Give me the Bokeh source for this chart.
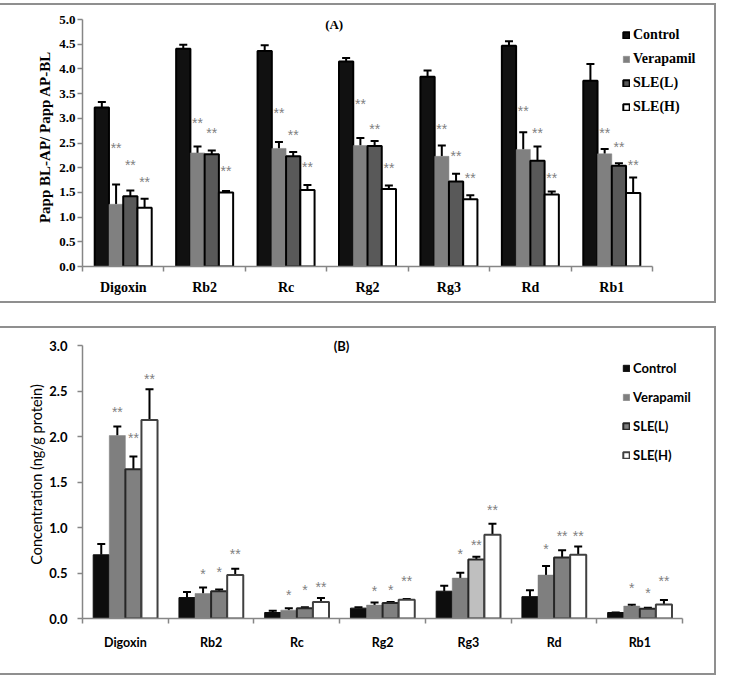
from bokeh.plotting import figure
from bokeh.models import (ColumnDataSource, Whisker, TeeHead, Legend, LegendItem,
                          FixedTicker, NumeralTickFormatter, Label, Range1d, Spacer)
from bokeh.layouts import column
from bokeh.embed import file_html
from bokeh.resources import INLINE
from bokeh.core.properties import value

categories = ["Digoxin", "Rb2", "Rc", "Rg2", "Rg3", "Rd", "Rb1"]
series = ["Control", "Verapamil", "SLE(L)", "SLE(H)"]

# ---------- Panel A: efflux ratio ----------
a_control = [3.22, 4.41, 4.36, 4.15, 3.84, 4.47, 3.76]
a_control_err = [0.11, 0.08, 0.12, 0.07, 0.13, 0.09, 0.34]
a_verapamil = [1.26, 2.30, 2.39, 2.45, 2.23, 2.37, 2.28]
a_verapamil_err = [0.40, 0.13, 0.13, 0.15, 0.22, 0.35, 0.10]
a_slel = [1.42, 2.27, 2.23, 2.44, 1.72, 2.14, 2.04]
a_slel_err = [0.12, 0.08, 0.09, 0.10, 0.16, 0.29, 0.05]
a_sleh = [1.19, 1.50, 1.55, 1.57, 1.36, 1.46, 1.49]
a_sleh_err = [0.18, 0.03, 0.10, 0.07, 0.08, 0.06, 0.31]
# significance marks (label heights)
a_mark_ver = ["**"] * 7
a_mark_ver_y = [2.39, 2.90, 3.11, 3.29, 2.79, 3.14, 2.70]
a_mark_slel = ["**"] * 7
a_mark_slel_y = [2.06, 2.70, 2.67, 2.79, 2.23, 2.70, 2.41]
a_mark_sleh = ["**"] * 7
a_mark_sleh_y = [1.72, 1.93, 2.01, 1.99, 1.80, 1.80, 2.06]
a_yticks = [0.0, 0.5, 1.0, 1.5, 2.0, 2.5, 3.0, 3.5, 4.0, 4.5, 5.0]

# ---------- Panel B: intracellular concentration ----------
b_control = [0.70, 0.23, 0.066, 0.114, 0.30, 0.24, 0.066]
b_control_err = [0.12, 0.06, 0.02, 0.01, 0.06, 0.07, 0.0]
b_verapamil = [2.01, 0.275, 0.092, 0.147, 0.444, 0.477, 0.136]
b_verapamil_err = [0.10, 0.066, 0.02, 0.03, 0.06, 0.10, 0.015]
b_slel = [1.64, 0.30, 0.114, 0.17, 0.648, 0.67, 0.107]
b_slel_err = [0.14, 0.02, 0.01, 0.01, 0.03, 0.08, 0.01]
b_sleh = [2.18, 0.477, 0.18, 0.205, 0.92, 0.70, 0.154]
b_sleh_err = [0.34, 0.07, 0.045, 0.01, 0.12, 0.09, 0.05]
b_mark_ver = ["**", "*", "*", "*", "*", "*", "*"]
b_mark_ver_y = [2.27, 0.49, 0.26, 0.30, 0.714, 0.76, 0.33]
b_mark_slel = ["**", "*", "*", "*", "**", "**", "*"]
b_mark_slel_y = [1.98, 0.51, 0.31, 0.31, 0.81, 0.905, 0.275]
b_mark_sleh = ["**"] * 7
b_mark_sleh_y = [2.63, 0.71, 0.35, 0.41, 1.19, 0.905, 0.41]
b_yticks = [0.0, 0.5, 1.0, 1.5, 2.0, 2.5, 3.0]

AXIS_GRAY = "#868686"
MARK_GRAY = "#7f7f7f"


def make_panel(width, height, axis_box, ymax, yticks, ytitle, vals, errs, marks,
               styles, group_w, font, tick_size, xlab_size, title_size, title_style,
               title_standoff, tick_standoff, xlab_standoff, mark_font, mark_size,
               legend_font, legend_size, legend_loc, legend_spacing, tag, tag_xy,
               tag_font, tag_size):
    # axis_box: pixel extent of the axes (left, right, top, bottom) inside the figure;
    # the frame is widened to the figure edges so legend / tag are not clipped.
    left, right, top, bottom = axis_box
    ncat = len(categories)
    pad = 2
    frame_w = width - left - pad
    frame_h = height - pad - bottom
    axis_w = right - left
    x_end = ncat * frame_w / axis_w
    y_end = ymax * frame_h / (height - bottom - top)
    p = figure(width=width, height=height, output_backend="svg", toolbar_location=None,
               x_range=Range1d(0, x_end), y_range=Range1d(0, y_end),
               min_border_left=left, min_border_right=pad,
               min_border_top=pad, min_border_bottom=bottom)
    p.outline_line_color = None
    p.xgrid.grid_line_color = None
    p.ygrid.grid_line_color = None
    p.background_fill_color = "white"
    p.border_fill_color = "white"
    p.styles = {"outline": "2px solid #8f8f8f"}

    n = len(series)
    bw = group_w / n
    offsets = [(-group_w / 2 + bw * (j + 0.5)) for j in range(n)]
    items = []
    for j, name in enumerate(series):
        xs = [i + 0.5 + offsets[j] for i in range(ncat)]
        st = styles[j]
        src = ColumnDataSource(dict(x=xs, top=vals[j], lower=vals[j],
                                    upper=[v + e for v, e in zip(vals[j], errs[j])],
                                    fill=st["fill"]))
        r = p.vbar(x="x", top="top", width=bw, source=src, fill_color="fill",
                   line_color=st["line"], line_width=st["lw"])
        items.append(LegendItem(label=name, renderers=[r]))
        w = Whisker(base="x", upper="upper", lower="lower", source=src,
                    line_color="black", line_width=2,
                    upper_head=TeeHead(size=8, line_color="black", line_width=2),
                    lower_head=None)
        p.add_layout(w)
        if marks[j] is not None:
            txt, ys = marks[j]
            msrc = ColumnDataSource(dict(x=xs, y=ys, t=txt))
            p.text(x="x", y="y", text="t", source=msrc, text_font=value(mark_font),
                   text_font_size=mark_size, text_align="center",
                   text_baseline="middle", text_color=MARK_GRAY)

    # axes
    for ax in (p.xaxis[0], p.yaxis[0]):
        ax.axis_line_color = AXIS_GRAY
        ax.axis_line_width = 1.5
        ax.major_label_text_font = font
        ax.major_label_text_font_style = "bold"
        ax.major_label_text_color = "black"
    yax = p.yaxis[0]
    yax.bounds = (0, ymax)
    yax.ticker = FixedTicker(ticks=yticks)
    yax.formatter = NumeralTickFormatter(format="0.0")
    yax.major_tick_line_color = AXIS_GRAY
    yax.major_tick_line_width = 1.5
    yax.major_tick_in = 0
    yax.major_tick_out = 5
    yax.minor_tick_line_color = None
    yax.major_label_text_font_size = tick_size
    yax.major_label_standoff = tick_standoff
    yax.axis_label = ytitle
    yax.axis_label_text_font = font
    yax.axis_label_text_font_size = title_size
    yax.axis_label_text_font_style = title_style
    yax.axis_label_text_color = "black"
    yax.axis_label_standoff = title_standoff

    xax = p.xaxis[0]
    xax.bounds = (0, ncat)
    centers = [i + 0.5 for i in range(ncat)]
    xax.ticker = FixedTicker(ticks=centers, minor_ticks=list(range(ncat + 1)))
    xax.major_label_overrides = {c: lab for c, lab in zip(centers, categories)}
    xax.major_tick_line_color = None
    xax.major_tick_in = 0
    xax.major_tick_out = 0
    xax.minor_tick_line_color = AXIS_GRAY
    xax.minor_tick_line_width = 1.5
    xax.minor_tick_in = 0
    xax.minor_tick_out = 5
    xax.major_label_text_font_size = xlab_size
    xax.major_label_standoff = xlab_standoff

    legend = Legend(items=items, location=legend_loc, orientation="vertical",
                    label_text_font=legend_font, label_text_font_size=legend_size,
                    label_text_font_style="bold", label_text_color="black",
                    glyph_width=8, glyph_height=8, label_height=15,
                    label_standoff=3, spacing=legend_spacing, padding=0, margin=0,
                    border_line_color=None, background_fill_alpha=0)
    p.add_layout(legend)

    p.add_layout(Label(x=tag_xy[0], y=tag_xy[1], text=tag, text_font=tag_font,
                       text_font_size=tag_size, text_font_style="bold",
                       text_baseline="middle", text_align="left", text_color="black"))
    return p


pA = make_panel(
    714, 296, (82, 652, 14, 35), 5.0, a_yticks, "Papp BL-AP/ Papp AP-BL",
    [a_control, a_verapamil, a_slel, a_sleh],
    [a_control_err, a_verapamil_err, a_slel_err, a_sleh_err],
    [None, (a_mark_ver, a_mark_ver_y), (a_mark_slel, a_mark_slel_y), (a_mark_sleh, a_mark_sleh_y)],
    [dict(fill=["#111111"] * 7, line="black", lw=2),
     dict(fill=["#808080"] * 7, line="#808080", lw=0.5),
     dict(fill=["#595959"] * 7, line="black", lw=2),
     dict(fill=["#ffffff"] * 7, line="black", lw=2)],
    0.70, "Liberation Serif", "13px", "14px", "15px", "bold",
    3, 2, 8, "Liberation Sans", "14px",
    "Liberation Serif", "14px", (540, 151), 8, "(A)", (2.98, 4.9),
    "Liberation Serif", "13px")

pB = make_panel(
    714, 345, (78, 682, 17, 55), 3.0, b_yticks, "Concentration (ng/g protein)",
    [b_control, b_verapamil, b_slel, b_sleh],
    [b_control_err, b_verapamil_err, b_slel_err, b_sleh_err],
    [None, (b_mark_ver, b_mark_ver_y), (b_mark_slel, b_mark_slel_y), (b_mark_sleh, b_mark_sleh_y)],
    [dict(fill=["#0d0d0d"] * 7, line="#0d0d0d", lw=1),
     dict(fill=["#7f7f7f"] * 7, line="#7f7f7f", lw=0.5),
     dict(fill=["#808080", "#808080", "#808080", "#808080", "#bfbfbf", "#808080", "#808080"],
          line="#262626", lw=2),
     dict(fill=["#ffffff"] * 7, line="#404040", lw=2)],
    0.75, "Lato", "13px", "12.5px", "14.5px", "normal",
    1, 10, 11, "Liberation Sans", "14px",
    "Lato", "13px", (540, 155), 13, "(B)", (2.93, 3.0),
    "Lato", "13px")

layout = column(Spacer(width=714, height=5), pA, Spacer(width=714, height=27), pB,
                spacing=0)

with open("out.html", "w") as f:
    f.write(file_html(layout, INLINE))
